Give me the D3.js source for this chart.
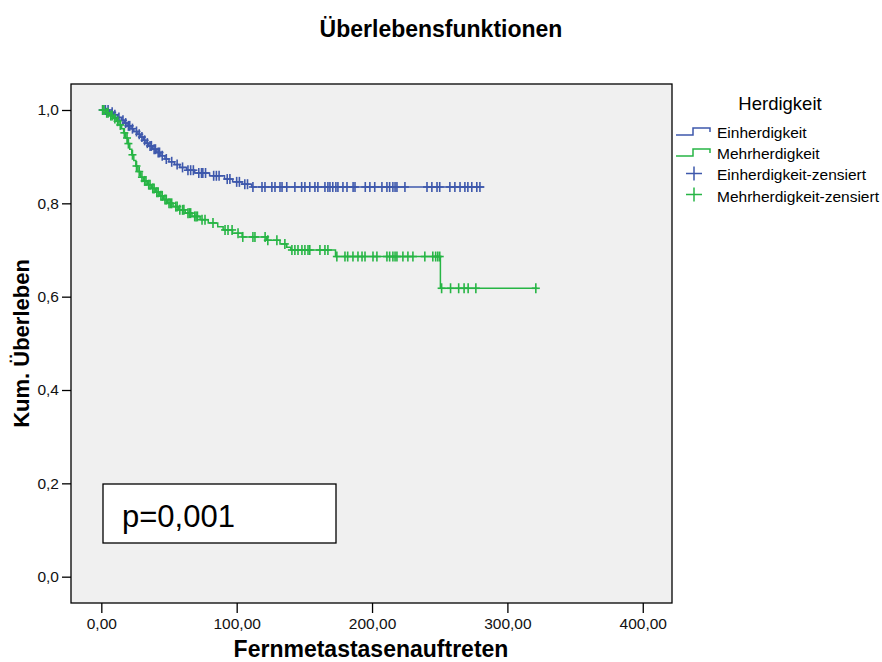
<!DOCTYPE html>
<html>
<head>
<meta charset="utf-8">
<script src="https://cdn.jsdelivr.net/npm/d3@7"></script>
<style>
  body { margin: 0; background: #fff; }
  svg { display: block; font-family: "Liberation Sans", Arial, sans-serif; }
</style>
</head>
<body>
<svg></svg>
<script>
/* Kaplan-Meier steps: event time and survival after the event */
var blueTimes = [0, 6, 9, 12, 15, 17, 19, 22, 24, 27, 29, 31, 33, 35, 38, 41, 44, 47, 50, 54, 58, 63, 69, 80, 91, 97, 104, 111];
var blueSurv = [1.0, 0.995, 0.99, 0.984, 0.978, 0.972, 0.966, 0.96, 0.954, 0.948, 0.942, 0.935, 0.929, 0.923, 0.916, 0.909, 0.902, 0.895, 0.889, 0.883, 0.877, 0.871, 0.865, 0.859, 0.852, 0.846, 0.841, 0.835];
var blueEnd = 283;
var blueCensored = [1, 3, 5, 8, 10, 13, 16, 18, 20, 21, 23, 26, 28, 30, 32, 34, 36, 37, 39, 40, 42, 43, 45, 48, 52, 56, 60, 64, 66, 68, 72, 74, 75, 77, 83, 85, 87, 93, 95, 100, 102, 106, 108,
  112, 118.7, 120.9, 126, 128.3, 132, 133.5, 137, 143, 148, 150.4, 154, 157.8, 160, 165.2, 167.4, 168.9, 171, 173.3, 174.8, 178.5, 181.5, 186, 187.4, 195, 198.4, 202, 207.3, 211, 213, 215.4, 217, 218.4, 224.3, 240.6, 244.2, 248, 250, 257.5, 261.2, 265, 268.6, 270.8, 273.7, 277.4, 279.7];

var greenTimes = [0, 3, 6, 9, 11, 13, 15, 16.5, 18, 19.5, 21, 22.5, 24, 25.5, 27, 29, 31, 34, 37, 40, 43, 46, 49, 53, 57, 62, 67, 73, 79, 86, 90, 97, 104, 122, 132, 137, 140, 173, 250.5];
var greenSurv = [1.0, 0.994, 0.988, 0.982, 0.976, 0.968, 0.96, 0.951, 0.94, 0.928, 0.916, 0.904, 0.892, 0.88, 0.868, 0.856, 0.848, 0.84, 0.832, 0.824, 0.816, 0.808, 0.8, 0.793, 0.786, 0.779, 0.772, 0.765, 0.758, 0.75, 0.743, 0.736, 0.728, 0.721, 0.713, 0.706, 0.7, 0.686, 0.618];
var greenEnd = 322;
var greenCensored = [1, 2, 4, 5, 7, 8, 10, 12, 14, 17, 19, 20, 23, 26, 28, 30, 32, 33, 35, 36, 38, 39, 41, 42, 44, 45, 47, 48, 50, 51, 52, 55, 56, 58, 60, 61, 64, 65, 66, 69, 70, 71,
  74.4, 76.6, 82.5, 91.4, 93.6, 96.6, 101, 104.5, 112, 113.5, 121, 123, 129.7, 135.6, 140.8, 143, 145.3, 148.2, 150.4, 152.7, 154, 161.5, 165.2, 167.4, 174, 180, 182, 185.9, 189.6, 192.6, 194.8, 200.7, 203.6, 211, 213, 215.4, 217, 218.4, 222.8, 226.5, 230.2, 239, 244.9, 247, 248.6, 250,
  251.4, 258, 264, 268, 271, 276.7, 321];

var xTicks = [0, 100, 200, 300, 400];
var yTicks = [0, 0.2, 0.4, 0.6, 0.8, 1.0];
var legendLabels = ["Einherdigkeit", "Mehrherdigkeit", "Einherdigkeit-zensiert", "Mehrherdigkeit-zensiert"];
var blueColor = "#3e58ac";
var greenColor = "#27b545";

var width = 882;
var height = 662;
var plotLeft = 71, plotRight = 672, plotTop = 84, plotBottom = 603;

var svg = d3.select("svg").attr("width", width).attr("height", height);

var xScale = d3.scaleLinear().domain([-22.4, 421.6]).range([plotLeft, plotRight]);
var yScale = d3.scaleLinear().domain([-0.0564, 1.0557]).range([plotBottom, plotTop]);

var fmtComma = (n, d) => n.toFixed(d).replace(".", ",");

svg.append("rect")
  .attr("x", plotLeft).attr("y", plotTop)
  .attr("width", plotRight - plotLeft).attr("height", plotBottom - plotTop)
  .attr("fill", "#f0f0f0")
  .attr("stroke", "#000")
  .attr("stroke-width", 1.3);

var xAxis = d3.axisBottom(xScale).tickValues(xTicks).tickSize(10).tickPadding(5)
  .tickFormat((d) => fmtComma(d, 2));
var yAxis = d3.axisLeft(yScale).tickValues(yTicks).tickSize(9).tickPadding(3)
  .tickFormat((d) => fmtComma(d, 1));

var gx = svg.append("g").attr("transform", "translate(0," + plotBottom + ")").call(xAxis);
var gy = svg.append("g").attr("transform", "translate(" + plotLeft + ",0)").call(yAxis);
[gx, gy].forEach((g) => {
  g.select(".domain").remove();
  g.selectAll("line").attr("stroke", "#000").attr("stroke-width", 1.3);
  g.selectAll("text").attr("fill", "#111").style("font-size", "15.5px")
    .style("font-family", "'Liberation Sans', Arial, sans-serif");
});

/* step curves */
var stepLine = d3.line()
  .x((d) => xScale(d[0]))
  .y((d) => yScale(d[1]))
  .curve(d3.curveStepAfter);

var survAt = (times, surv, t) => {
  var s = surv[0];
  times.forEach((tt, i) => { if (tt <= t) s = surv[i]; });
  return s;
};

var drawGroup = (times, surv, end, censored, color) => {
  var pts = times.map((t, i) => [t, surv[i]]);
  pts.push([end, surv[surv.length - 1]]);
  svg.append("path")
    .attr("d", stepLine(pts))
    .attr("fill", "none")
    .attr("stroke", color)
    .attr("stroke-width", 1.5);

  var g = svg.append("g").attr("stroke", color).attr("stroke-width", 1.6);
  censored.forEach((t) => {
    var cx = xScale(t);
    var cy = yScale(survAt(times, surv, t));
    g.append("line").attr("x1", cx - 4).attr("x2", cx + 4).attr("y1", cy).attr("y2", cy);
    g.append("line").attr("x1", cx).attr("x2", cx).attr("y1", cy - 5).attr("y2", cy + 5);
  });
};

drawGroup(blueTimes, blueSurv, blueEnd, blueCensored, blueColor);
drawGroup(greenTimes, greenSurv, greenEnd, greenCensored, greenColor);

/* p value box */
svg.append("rect")
  .attr("x", 103).attr("y", 484).attr("width", 233).attr("height", 59)
  .attr("fill", "#fff").attr("stroke", "#000").attr("stroke-width", 1.3);
svg.append("text")
  .attr("x", 122).attr("y", 527)
  .style("font-size", "31px")
  .attr("fill", "#000")
  .text("p=0,001");

/* titles */
svg.append("text")
  .attr("x", 441).attr("y", 37)
  .attr("text-anchor", "middle")
  .style("font-size", "23px").style("font-weight", "bold")
  .text("Überlebensfunktionen");

svg.append("text")
  .attr("x", 371).attr("y", 657)
  .attr("text-anchor", "middle")
  .style("font-size", "23px").style("font-weight", "bold")
  .text("Fernmetastasenauftreten");

svg.append("text")
  .attr("transform", "translate(29," + ((plotTop + plotBottom) / 2) + ") rotate(-90)")
  .attr("text-anchor", "middle")
  .style("font-size", "22px").style("font-weight", "bold")
  .text("Kum. Überleben");

/* legend */
var legend = svg.append("g");
legend.append("text")
  .attr("x", 780).attr("y", 110)
  .attr("text-anchor", "middle")
  .style("font-size", "18.5px")
  .text("Herdigkeit");

var legendColors = [blueColor, greenColor, blueColor, greenColor];
legendLabels.forEach((label, i) => {
  var base = 138 + i * 21.2;
  var cy = 131.5 + i * 21;
  if (i < 2) {
    legend.append("path")
      .attr("d", "M676," + (cy + 3.5) + "H693V" + (cy - 3.5) + "H710V" + (cy + 0.5))
      .attr("fill", "none")
      .attr("stroke", legendColors[i])
      .attr("stroke-width", 1.5);
  } else {
    legend.append("path")
      .attr("d", "M686," + cy + "H702M694," + (cy - 7) + "V" + (cy + 7))
      .attr("stroke", legendColors[i])
      .attr("stroke-width", 1.5);
  }
  legend.append("text")
    .attr("x", 717).attr("y", base)
    .style("font-size", "15.5px")
    .text(label);
});
</script>
</body>
</html>
